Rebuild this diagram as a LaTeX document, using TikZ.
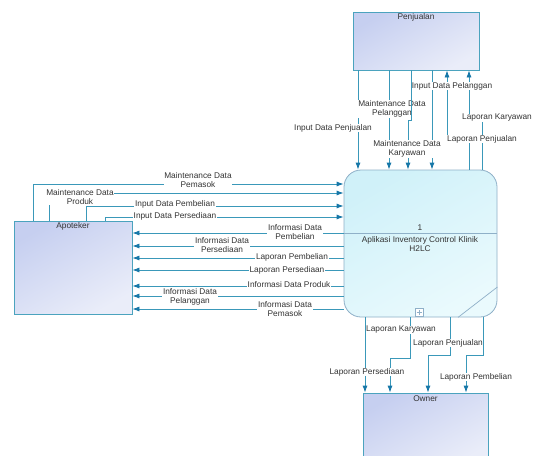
\documentclass[tikz,border=0pt]{standalone}
\usepackage{fontspec}
\setmainfont{Liberation Sans}
\usetikzlibrary{arrows.meta,calc}
\definecolor{flowc}{HTML}{3A98B9}
\definecolor{headc}{HTML}{1677A8}
\definecolor{entb}{HTML}{4BA3BE}
\definecolor{entt}{HTML}{C6CFF0}
\definecolor{entbot}{HTML}{EAEDF9}
\definecolor{procb}{HTML}{8FB0C8}
\definecolor{proct}{HTML}{D0F1F9}
\definecolor{procbot}{HTML}{EAFAFD}
\definecolor{txt}{HTML}{333333}
\begin{document}
\begin{tikzpicture}[x=1pt,y=-1pt,
  every node/.style={font=\fontsize{8.3}{9}\selectfont, text=txt},
  entity/.style={draw=entb, line width=0.8pt, top color=entt, bottom color=entbot, shading angle=30, inner sep=0pt},
  procbox/.style={draw=procb, line width=0.8pt, top color=proct, bottom color=procbot, shading angle=30, rounded corners=17pt, inner sep=0pt},
  flow/.style={draw=flowc, line width=0.8pt, -{Latex[length=7pt,width=5pt,color=headc]}},
  flowlbl/.style={fill=white, inner sep=0.6pt, align=center},
  title/.style={inner sep=0pt},
  divline/.style={draw=procb, line width=0.7pt}
]
\useasboundingbox (0,0) rectangle (535,455);
\clip (0,0) rectangle (535,455);
\fill[white] (0,0) rectangle (535,455);

% entities
\node[entity, minimum width=126pt, minimum height=58pt] (pen) at (416,41) {};
\node[entity, minimum width=118pt, minimum height=93pt] (apo) at (73,267.5) {};
\node[entity, minimum width=125pt, minimum height=72pt] (own) at (425.5,429) {};
\node[procbox, minimum width=153pt, minimum height=147pt] (proc) at (420.5,243.5) {};

\node[title] (penlbl) at (416,17) {Penjualan};
\node[title] (apolbl) at (73,226) {Apoteker};
\node[title] (ownlbl) at (425.5,398.5) {Owner};

% process details
\draw[divline] (proc.west |- 0,233) -- (proc.east |- 0,233);
\node[title] (pnum) at (420,228) {1};
\node[title, align=center] (pname) at (420,244) {Aplikasi Inventory Control Klinik\\H2LC};
\draw[divline] (proc.south -| 458,0) -- (proc.east |- 0,287);
\node[draw=procb, fill=white, minimum size=8pt, inner sep=0pt, line width=0.5pt] (plus) at (419,312.5) {};
\draw[procb, line width=0.5pt] ($(plus.center)+(-2.5,0)$) -- ($(plus.center)+(2.5,0)$);
\draw[procb, line width=0.5pt] ($(plus.center)+(0,-2.5)$) -- ($(plus.center)+(0,2.5)$);

% Penjualan <-> process
\draw[flow] (pen.south -| 358,0) -- (proc.north -| 358,0);
\draw[flow] (pen.south -| 389,0) -- (proc.north -| 389,0);
\draw[flow] (pen.south -| 432,0) -- (proc.north -| 432,0);
\draw[flow] (proc.north -| 469,0) -- (469,139) -- (447,139) -- (pen.south -| 447,0);
\draw[flow] (proc.north -| 482,0) -- (482,118) -- (469,118) -- (pen.south -| 469,0);

\node[flowlbl] (l1) at (333,128) {Input Data Penjualan};
\node[flowlbl] (l2) at (392,109) {Maintenance Data\\Pelanggan};
\node[flowlbl] (l4) at (452,86) {Input Data Pelanggan};
\node[flowlbl] (l5) at (482,139) {Laporan Penjualan};
\node[flowlbl] (l6) at (497,118) {Laporan Karyawan};
\draw[flow] (pen.south -| 411,0) -- (411,120) -- (408,120) -- (proc.north -| 408,0);
\node[flowlbl] (l3) at (407,149) {Maintenance Data\\Karyawan};

% Apoteker -> process
\draw[flow] (apo.north -| 33,0) -- (33,184) -- (proc.west |- 0,184);
\draw[flow] (apo.north -| 49,0) -- (49,193) -- (proc.west |- 0,193);
\draw[flow] (apo.north -| 86,0) -- (86,206) -- (proc.west |- 0,206);
\draw[flow] (apo.north -| 105,0) -- (105,217) -- (proc.west |- 0,217);

\node[flowlbl] (a1) at (198,180) {Maintenance Data\\Pemasok};
\node[flowlbl] (a2) at (80,197) {Maintenance Data\\Produk};
\node[flowlbl] (a3) at (175,204) {Input Data Pembelian};
\node[flowlbl] (a4) at (175,216) {Input Data Persediaan};

% process -> Apoteker
\draw[flow] (proc.west |- 0,233) -- (apo.east |- 0,233);
\draw[flow] (proc.west |- 0,246) -- (apo.east |- 0,246);
\draw[flow] (proc.west |- 0,258) -- (apo.east |- 0,258);
\draw[flow] (proc.west |- 0,270) -- (apo.east |- 0,270);
\draw[flow] (proc.west |- 0,286) -- (apo.east |- 0,286);
\draw[flow] (proc.west |- 0,296) -- (apo.east |- 0,296);
\draw[flow] (proc.west |- 0,309) -- (apo.east |- 0,309);

\node[flowlbl] (b1) at (295,232) {Informasi Data\\Pembelian};
\node[flowlbl] (b2) at (222,245.5) {Informasi Data\\Persediaan};
\node[flowlbl] (b3) at (292,257) {Laporan Pembelian};
\node[flowlbl] (b4) at (287,270) {Laporan Persediaan};
\node[flowlbl] (b5) at (289,285) {Informasi Data Produk};
\node[flowlbl] (b6) at (190,296.5) {Informasi Data\\Pelanggan};
\node[flowlbl] (b7) at (285,309.5) {Informasi Data\\Pemasok};

% process -> Owner
\draw[flow] (proc.south -| 365,0) -- (own.north -| 365,0);
\draw[flow] (proc.south -| 410,0) -- (410,358) -- (390,358) -- (own.north -| 390,0);
\draw[flow] (proc.south -| 450,0) -- (450,355) -- (428,355) -- (own.north -| 428,0);
\draw[flow] (proc.south -| 483,0) -- (483,355) -- (466,355) -- (own.north -| 466,0);

\node[flowlbl] (c1) at (367,372) {Laporan Persediaan};
\node[flowlbl] (c2) at (401,330) {Laporan Karyawan};
\node[flowlbl] (c3) at (448,343) {Laporan Penjualan};
\node[flowlbl] (c4) at (476,377) {Laporan Pembelian};
\end{tikzpicture}
\end{document}
